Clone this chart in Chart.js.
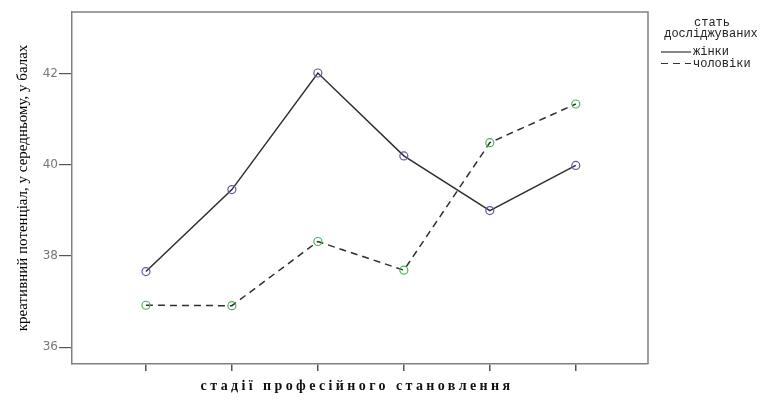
<!DOCTYPE html>
<html>
<head>
<meta charset="utf-8">
<script src="https://cdn.jsdelivr.net/npm/chart.js@4/dist/chart.umd.min.js"></script>
<style>
  html, body { margin: 0; padding: 0; background: #fff; }
  #wrap { width: 774px; height: 402px; position: relative; }
</style>
</head>
<body>
<div id="wrap"><canvas id="mycanvas"></canvas></div>
<script>
// stages (x positions 1..6), no tick labels shown on the axis
var stages = [1, 2, 3, 4, 5, 6];
// mean creative potential, women
var women = [37.66, 39.46, 42.02, 40.20, 39.00, 39.99];
// mean creative potential, men
var men = [36.92, 36.91, 38.32, 37.69, 40.49, 41.34];
// y tick values
var yTicks = [36, 38, 40, 42];
var seriesNames = ['жінки', 'чоловіки'];
var legendTitle = ['стать', 'досліджуваних'];
var xTitle = 'стадії професійного становлення';
var yTitle = 'креативний потенціал, у середньому, у балах';

function toPoints(vals)
{
  return vals.map(function (v, i) { return { x: stages[i], y: v }; });
}

// frame + x title + legend
var extras = {
  id: 'extras',
  afterDraw: function (chart)
  {
    var ctx = chart.ctx;
    var a = chart.chartArea;
    ctx.save();
    // top / right edges of the frame
    ctx.strokeStyle = '#808080';
    ctx.lineWidth = 1.5;
    ctx.beginPath();
    ctx.moveTo(a.left, a.top);
    ctx.lineTo(a.right, a.top);
    ctx.lineTo(a.right, a.bottom);
    ctx.stroke();

    // x axis title, letter spaced
    ctx.fillStyle = '#111';
    ctx.font = 'bold 14px "Liberation Serif"';
    ctx.letterSpacing = '3.4px';
    ctx.textAlign = 'center';
    ctx.textBaseline = 'middle';
    ctx.fillText(xTitle, 357, 386);
    ctx.letterSpacing = '0px';

    // legend
    ctx.font = '12px "Liberation Mono"';
    ctx.fillStyle = '#222';
    ctx.fillText(legendTitle[0], 712, 23);
    ctx.fillText(legendTitle[1], 711, 34);
    ctx.textAlign = 'left';
    chart.data.datasets.forEach(function (ds, i)
    {
      var y = 52 + i * 11.5;
      ctx.strokeStyle = '#333';
      ctx.lineWidth = 1.2;
      ctx.setLineDash(ds.borderDash || []);
      ctx.beginPath();
      ctx.moveTo(661, y);
      ctx.lineTo(691, y);
      ctx.stroke();
      ctx.setLineDash([]);
      ctx.fillText(ds.label, 693, y);
    });
    ctx.restore();
  }
};

var ctx = document.getElementById('mycanvas');
var lineGraph = new Chart(ctx,
{
  type: 'line',
  data: {
    datasets: [
      {
        label: seriesNames[0],
        data: toPoints(women),
        borderColor: '#2e2e2e',
        borderWidth: 1.5,
        pointStyle: 'circle',
        pointRadius: 4,
        pointBorderWidth: 1.2,
        pointBorderColor: '#5b5ba6',
        pointBackgroundColor: 'rgba(255,255,255,0)',
        fill: false,
        tension: 0
      },
      {
        label: seriesNames[1],
        data: toPoints(men),
        borderColor: '#2e2e2e',
        borderWidth: 1.5,
        borderDash: [7, 5],
        pointStyle: 'circle',
        pointRadius: 4,
        pointBorderWidth: 1.2,
        pointBorderColor: '#4cb45a',
        pointBackgroundColor: 'rgba(255,255,255,0)',
        fill: false,
        tension: 0
      }
    ]
  },
  options: {
    responsive: true,
    maintainAspectRatio: false,
    animation: false,
    layout: { padding: { top: 12, right: 126, bottom: 0, left: 0 } },
    plugins: {
      legend: { display: false },
      tooltip: { enabled: false }
    },
    scales: {
      x: {
        type: 'linear',
        min: 0.14,
        max: 6.84,
        afterBuildTicks: function (axis)
        {
          axis.ticks = stages.map(function (v) { return { value: v }; });
        },
        afterFit: function (axis) { axis.height = 38; },
        ticks: { display: false },
        grid: {
          drawOnChartArea: false,
          drawTicks: true,
          tickLength: 7,
          color: '#555',
          lineWidth: 1.5
        },
        border: { display: true, color: '#808080', width: 1.5 }
      },
      y: {
        min: 35.63,
        max: 43.36,
        afterBuildTicks: function (axis)
        {
          axis.ticks = yTicks.map(function (v) { return { value: v }; });
        },
        afterFit: function (axis) { axis.width = 72; },
        ticks: {
          color: '#777',
          padding: 1,
          font: { family: 'DejaVu Sans', size: 12 }
        },
        grid: {
          drawOnChartArea: false,
          drawTicks: true,
          tickLength: 13,
          color: '#555',
          lineWidth: 1.2
        },
        border: { display: true, color: '#808080', width: 1.5 },
        title: {
          display: true,
          text: yTitle,
          color: '#000',
          padding: { top: 14, bottom: 0 },
          font: { family: 'Liberation Serif', size: 15 }
        }
      }
    }
  },
  plugins: [extras]
});
</script>
</body>
</html>
